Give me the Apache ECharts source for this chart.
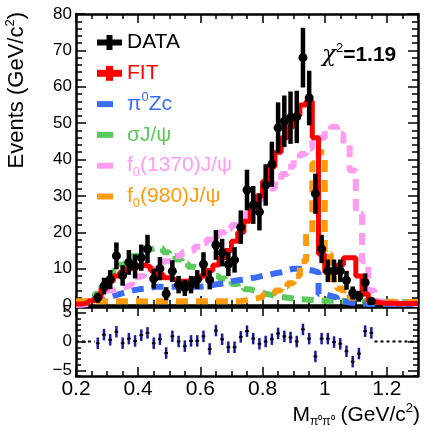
<!DOCTYPE html>
<html>
<head>
<meta charset="utf-8">
<script src="https://cdn.jsdelivr.net/npm/echarts@6/dist/echarts.min.js"></script>
<style>
  html, body { margin: 0; padding: 0; background: #fff; }
  #chart { width: 424px; height: 431px; }
</style>
</head>
<body>
<div id="chart"></div>
<script>
// bin centres of M(pi0 pi0), 0.02 GeV/c^2 wide, 0.20 - 1.30
const binCenters = [0.21, 0.23, 0.25, 0.27, 0.29, 0.31, 0.33, 0.35, 0.37, 0.39,
  0.41, 0.43, 0.45, 0.47, 0.49, 0.51, 0.53, 0.55, 0.57, 0.59,
  0.61, 0.63, 0.65, 0.67, 0.69, 0.71, 0.73, 0.75, 0.77, 0.79,
  0.81, 0.83, 0.85, 0.87, 0.89, 0.91, 0.93, 0.95, 0.97, 0.99,
  1.01, 1.03, 1.05, 1.07, 1.09, 1.11, 1.13, 1.15, 1.17, 1.19,
  1.21, 1.23, 1.25, 1.27, 1.29];

// data points (bins 0.27 .. 1.15)
const dataCenters = binCenters.slice(3, 48);
const dataEvents = [2, 5.2, 7, 13.5, 8.1, 11.7, 10.6, 13, 15.4, 7.2,
  10, 3.1, 9.3, 5.6, 4.7, 5.6, 7, 11.2, 6.9, 16.5,
  14.4, 11.2, 12.4, 21.4, 31.6, 27.5, 25.6, 33, 38.7, 48.7,
  50.5, 51.5, 51.7, 68, 56.9, 30.6, 15.4, 9.4, 9.4, 9.4,
  6.8, 3.3, 2.4, 6.2, 1];
const dataErrors = [1.4, 2.3, 2.6, 3.7, 2.8, 3.4, 3.3, 3.6, 3.9, 2.7,
  3.2, 1.8, 3.0, 2.4, 2.2, 2.4, 2.6, 3.3, 2.6, 4.1,
  3.8, 3.3, 3.5, 4.6, 5.6, 5.2, 5.1, 5.7, 6.2, 7.0,
  7.1, 7.2, 7.2, 8.2, 7.5, 5.5, 3.9, 3.1, 3.1, 3.1,
  2.6, 1.8, 1.5, 2.5, 1.0];
// pull (data - fit) / sigma
const residuals = [-0.3, 1.2, 0.3, 1.7, -0.3, 0.5, 0.1, 1.1, 1.5, -0.3,
  0.4, -2, 0.9, 0, -0.8, 0.1, 0.1, 0.9, -1.3, 1.9,
  0.4, -1, -1, 0.8, 1.8, 0.5, -0.4, 0, 0.4, 1.4,
  0.9, 0.7, 0, 2.1, 0.5, -2.6, 0.5, 0.5, -0.1, -0.4,
  -1.7, -3.5, -2.1, 1.8, 1.5];

// fit and components, one value per bin
const fitTotal = [0.3, 0.6, 1.2, 2, 4.5, 6.5, 8, 9, 10, 10.5,
  11, 10.5, 9.5, 8.5, 7.5, 7, 6.5, 6.5, 6.5, 7,
  8, 9.5, 11, 13, 15, 17.5, 20, 23, 27, 30,
  34, 38, 42, 46, 49, 52, 55, 56, 46, 14,
  9, 9, 11, 13, 13, 8, 3, 1, 0.6, 0.5,
  0.5, 0.4, 0.4, 0.4, 0.4];
const pi0Zc = [0.1, 0.3, 0.8, 1.5, 2, 2.5, 3, 3.5, 4, 4.3,
  4.5, 4.8, 5, 5, 5, 5, 5, 5, 5, 5,
  5.2, 5.5, 5.8, 6, 6.5, 6.8, 7, 7.3, 7.6, 8,
  8.3, 8.7, 9, 9.5, 10, 10, 9.8, 9.5, 9, 3,
  2.5, 2, 1, 0.7, 0.5, 0.4, 0.3, 0.3, 0.3, 0.3,
  0.3, 0.3, 0.3, 0.3, 0.3];
const sigmaJpsi = [0.2, 0.6, 1.5, 3, 5, 7.5, 9.5, 11, 12.5, 13.5,
  14.5, 15.3, 15.8, 15.5, 14.5, 13.5, 12.5, 11.5, 10.5, 10,
  9.3, 8.6, 8, 7.3, 6.5, 5.8, 5, 4.3, 3.8, 3.3,
  2.9, 2.5, 2.2, 2, 1.8, 1.6, 1.5, 1.4, 1.3, 1.2,
  1.2, 1.2, 1.1, 1.1, 1, 1, 1, 0.9, 0.9, 0.9,
  0.8, 0.8, 0.8, 0.7, 0.7];
const f1370Jpsi = [0.1, 0.3, 0.8, 2, 3, 4, 4.5, 5, 5.5, 6.5,
  8, 9, 10, 11, 12, 12.5, 13.5, 14.5, 15, 16,
  17, 18, 19, 20, 21, 22, 23.5, 25, 27, 29,
  30.5, 32, 34, 36, 38, 40, 41.5, 43, 45, 46,
  48, 49, 47, 44, 37, 25, 12, 4, 1, 0.5,
  0.5, 0.4, 0.4, 0.3, 0.3];
const f980Jpsi = [1, 1, 1, 1, 1, 1, 1, 1, 1, 1,
  1, 1, 1, 1, 1, 1, 1, 1, 1, 1,
  1, 1, 1, 1, 1, 1, 1.2, 1.5, 1.8, 2.2,
  2.8, 3.3, 4, 5, 6, 8, 12, 20, 39, 42,
  14, 7, 4.5, 3, 2, 1.5, 1.2, 1, 1, 0.9,
  0.9, 0.8, 0.8, 0.8, 0.8];

const xTicks = [0.2, 0.4, 0.6, 0.8, 1.0, 1.2];
const resTicks = [-5, 0, 5];
const resMinor = [-6, -5, -4, -3, -2, -1, 0, 1, 2, 3, 4, 5, 6];

const font = '"Liberation Sans", Arial, sans-serif';
const black = '#000';
const colors = {
  fit: '#ff0000', zc: '#3b6cf5', sigma: '#5cc95c', f1370: '#ff9cf2', f980: '#ff9a0a', pull: '#1a1a9c'
};

// step histogram: left edge of every bin, plus the closing edge
function histData(values) {
  const pts = values.map((v, i) => [+(binCenters[i] - 0.01).toFixed(3), v]);
  pts.push([+(binCenters[binCenters.length - 1] + 0.01).toFixed(3), values[values.length - 1]]);
  return pts;
}

function histSeries(name, values, color, dashed, z) {
  return {
    name: name, type: 'line', step: 'end', xAxisIndex: 0, yAxisIndex: 0,
    data: histData(values), showSymbol: false, silent: true, z: z,
    lineStyle: { color: color, width: dashed ? 6 : 5, type: dashed ? [12, 8] : 'solid', cap: 'butt' }
  };
}

function minorX(grid, pos) {
  return {
    gridIndex: grid, type: 'value', position: pos, min: 0.2, max: 1.3, interval: 0.05,
    axisLine: { show: true, onZero: false, lineStyle: { color: black, width: 2.5 } },
    axisTick: { inside: true, length: 5, lineStyle: { color: black, width: 1.5 } },
    axisLabel: { show: false }, splitLine: { show: false }
  };
}
function majorX(grid, pos, labels) {
  return {
    gridIndex: grid, type: 'value', position: pos, min: 0.2, max: 1.3,
    axisLine: { show: false, onZero: false },
    axisTick: { inside: true, length: 9, customValues: xTicks, lineStyle: { color: black, width: 1.5 } },
    axisLabel: { show: labels, customValues: xTicks, fontSize: 21, color: black, margin: 3, fontFamily: font },
    splitLine: { show: false }
  };
}
function mainY(pos, labels) {
  return {
    gridIndex: 0, type: 'value', position: pos, min: 0, max: 80, interval: 10,
    axisLine: { show: true, onZero: false, lineStyle: { color: black, width: 2.5 } },
    axisTick: { inside: true, length: 10, lineStyle: { color: black, width: 1.5 } },
    minorTick: { show: true, splitNumber: 5, length: 6, lineStyle: { color: black, width: 1.5 } },
    axisLabel: { show: labels, fontSize: 17, color: black, margin: 4, fontFamily: font },
    splitLine: { show: false }
  };
}
function resY(pos, labels, major) {
  return {
    gridIndex: 1, type: 'value', position: pos, min: -6, max: 6,
    axisLine: { show: !major, onZero: false, lineStyle: { color: black, width: 2.5 } },
    axisTick: { inside: true, length: major ? 10 : 5, customValues: major ? resTicks : resMinor,
      lineStyle: { color: black, width: 1.5 } },
    axisLabel: { show: labels, customValues: resTicks, fontSize: 17, color: black, margin: 4, fontFamily: font,
      formatter: v => (v < 0 ? '\u2212' + Math.abs(v) : String(v)) },
    splitLine: { show: false }
  };
}

const dataPoints = dataCenters.map((c, i) => [c, dataEvents[i], dataErrors[i]]);
const pullPoints = dataCenters.map((c, i) => [c, residuals[i]]);
const firstEdge = +(dataCenters[0] - 0.01).toFixed(3);
const lastEdge = +(dataCenters[dataCenters.length - 1] + 0.01).toFixed(3);

const legendRows = [
  { label: '{t|DATA}', color: black, icon: 'cross' },
  { label: '{t|FIT}', color: colors.fit, icon: 'cross' },
  { label: '{t|π}{sup|0}{t|Zc}', color: colors.zc, icon: 'bar' },
  { label: '{t|σJ/ψ}', color: colors.sigma, icon: 'bar' },
  { label: '{t|f}{sub|0}{t|(1370)J/ψ}', color: colors.f1370, icon: 'bar' },
  { label: '{t|f}{sub|0}{t|(980)J/ψ}', color: colors.f980, icon: 'bar' }
];

const legendGraphics = [];
legendRows.forEach((row, i) => {
  const y = 42.5 + i * 30.8;
  if (row.icon === 'cross') {
    const t = i === 0 ? 6 : 7;
    legendGraphics.push({ type: 'rect', shape: { x: 97, y: y - t / 2, width: 25, height: t }, style: { fill: row.color } });
    legendGraphics.push({ type: 'rect', shape: { x: 109.5 - t / 2, y: y - 7.5, width: t, height: 15 }, style: { fill: row.color } });
  } else {
    legendGraphics.push({ type: 'rect', shape: { x: 97, y: y - 3, width: 16, height: 6 }, style: { fill: row.color } });
  }
  legendGraphics.push({
    type: 'text', x: 127, y: y,
    style: {
      text: row.label, fill: row.color, verticalAlign: 'middle', align: 'left',
      rich: {
        t: { fontSize: 21, fontFamily: font, fill: row.color, lineHeight: 26 },
        sup: { fontSize: 13, fontFamily: font, fill: row.color, lineHeight: 14, verticalAlign: 'top' },
        sub: { fontSize: 13, fontFamily: font, fill: row.color, lineHeight: 12, verticalAlign: 'bottom' }
      }
    }
  });
});

const chart = echarts.init(document.getElementById('chart'));
chart.setOption({
  animation: false,
  backgroundColor: '#fff',
  grid: [
    { left: 76, top: 14, width: 342, height: 291 },
    { left: 76, top: 307, width: 342, height: 69 }
  ],
  xAxis: [
    minorX(0, 'bottom'), majorX(0, 'bottom', false), minorX(0, 'top'), majorX(0, 'top', false),
    minorX(1, 'bottom'), majorX(1, 'bottom', true), minorX(1, 'top'), majorX(1, 'top', false)
  ],
  yAxis: [
    mainY('left', true), mainY('right', false),
    resY('left', false, false), resY('left', true, true), resY('right', false, false), resY('right', false, true)
  ],
  series: [
    histSeries('σJ/ψ', sigmaJpsi, colors.sigma, true, 2),
    histSeries('π0Zc', pi0Zc, colors.zc, true, 3),
    histSeries('f0(980)J/ψ', f980Jpsi, colors.f980, true, 4),
    histSeries('f0(1370)J/ψ', f1370Jpsi, colors.f1370, true, 5),
    histSeries('FIT', fitTotal, colors.fit, false, 6),
    {
      name: 'DATA', type: 'custom', xAxisIndex: 0, yAxisIndex: 0, z: 10, clip: true,
      data: dataPoints, encode: { x: 0, y: 1 },
      renderItem: function (params, api) {
        const x = api.value(0), y = api.value(1), e = api.value(2);
        const c = api.coord([x, y]);
        const top = api.coord([x, y + e]);
        const bot = api.coord([x, Math.max(y - e, 0)]);
        const l = api.coord([x - 0.01, y]);
        const r = api.coord([x + 0.01, y]);
        return {
          type: 'group', children: [
            { type: 'line', shape: { x1: c[0], y1: top[1], x2: c[0], y2: bot[1] }, style: { stroke: black, lineWidth: 4.5 } },
            { type: 'line', shape: { x1: l[0], y1: c[1], x2: r[0], y2: c[1] }, style: { stroke: black, lineWidth: 4.5 } },
            { type: 'circle', shape: { cx: c[0], cy: c[1], r: 4.5 }, style: { fill: black } }
          ]
        };
      }
    },
    {
      name: 'zero', type: 'line', xAxisIndex: 4, yAxisIndex: 2, showSymbol: false, silent: true,
      data: [[0.2, 0], [firstEdge, 0], [0.7, '-'], [lastEdge, 0], [1.3, 0]],
      lineStyle: { color: black, width: 2, type: [3, 3] }
    },
    {
      name: 'pull', type: 'custom', xAxisIndex: 4, yAxisIndex: 2, z: 10, clip: true,
      data: pullPoints, encode: { x: 0, y: 1 },
      renderItem: function (params, api) {
        const x = api.value(0), y = api.value(1);
        const c = api.coord([x, y]);
        const top = api.coord([x, y + 1]);
        const bot = api.coord([x, y - 1]);
        const l = api.coord([x - 0.006, y]);
        const r = api.coord([x + 0.006, y]);
        return {
          type: 'group', children: [
            { type: 'line', shape: { x1: c[0], y1: top[1], x2: c[0], y2: bot[1] }, style: { stroke: colors.pull, lineWidth: 2.5 } },
            { type: 'line', shape: { x1: l[0], y1: c[1], x2: r[0], y2: c[1] }, style: { stroke: black, lineWidth: 2 } }
          ]
        };
      }
    }
  ],
  graphic: legendGraphics.concat([
    {
      type: 'text', x: 322, y: 55,
      style: {
        text: '{c|χ}{s|2}{b|=1.19}', verticalAlign: 'middle', align: 'left',
        rich: {
          c: { fontSize: 23, fontFamily: '"DejaVu Serif", serif', fontStyle: 'italic', fill: black, lineHeight: 26 },
          s: { fontSize: 13, fontFamily: font, fill: black, lineHeight: 13, verticalAlign: 'top' },
          b: { fontSize: 21, fontFamily: font, fontWeight: 'bold', fill: black, lineHeight: 26 }
        }
      }
    },
    {
      type: 'text', x: 17, y: 12, rotation: Math.PI / 2,
      style: {
        text: '{t|Events (GeV/c}{s|2}{t|)}', align: 'right', verticalAlign: 'middle',
        rich: {
          t: { fontSize: 22, fontFamily: font, fill: black, lineHeight: 26 },
          s: { fontSize: 13, fontFamily: font, fill: black, lineHeight: 13, verticalAlign: 'top' }
        }
      }
    },
    {
      type: 'text', x: 420, y: 415,
      style: {
        text: '{t|M}{sub|π⁰π⁰}{t| (GeV/c}{s|2}{t|)}', align: 'right', verticalAlign: 'middle',
        rich: {
          t: { fontSize: 21, fontFamily: font, fill: black, lineHeight: 26 },
          sub: { fontSize: 12, fontFamily: font, fill: black, lineHeight: 12, verticalAlign: 'bottom' },
          s: { fontSize: 13, fontFamily: font, fill: black, lineHeight: 13, verticalAlign: 'top' }
        }
      }
    }
  ])
});
</script>
</body>
</html>
